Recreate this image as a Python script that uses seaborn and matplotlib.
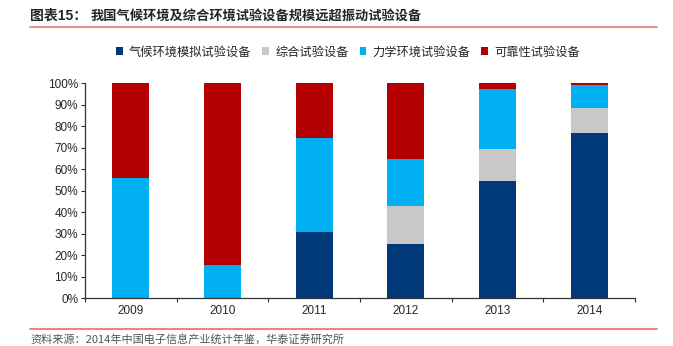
import matplotlib
matplotlib.use("Agg")
import matplotlib.pyplot as plt
from matplotlib.lines import Line2D
from matplotlib.patches import Patch
from matplotlib.ticker import PercentFormatter, FixedLocator
import seaborn as sns
import pandas as pd
import numpy as np

years = ["2009", "2010", "2011", "2012", "2013", "2014"]
series_names = ["气候环境模拟试验设备", "综合试验设备", "力学环境试验设备", "可靠性试验设备"]
climate = [0.0, 0.0, 31.0, 25.4, 54.6, 77.0]
combined = [0.0, 0.0, 0.0, 17.5, 15.0, 11.5]
mechanical = [56.0, 15.5, 43.6, 21.9, 27.9, 10.9]
reliability = [44.0, 84.5, 25.4, 35.2, 2.5, 0.6]
colors = ["#003878", "#C8C8C8", "#00B0F0", "#B40000"]

title_prefix = "图表15："
title_text = "我国气候环境及综合环境试验设备规模远超振动试验设备"
source_text = "资料来源：2014年中国电子信息产业统计年鉴，华泰证券研究所"

sns.set_theme(style="white")
plt.rcParams['font.family'] = ['Liberation Sans', 'Noto Sans CJK SC', 'DejaVu Sans']

values = np.array([climate, combined, mechanical, reliability])
cum = np.cumsum(values, axis=0)
df = pd.DataFrame({"year": years})
for i, n in enumerate(series_names):
    df[n] = cum[i]

fig = plt.figure(figsize=(6.73, 3.46), dpi=100)
ax = fig.add_axes([85/673, 1-298.3/346, 550/673, 215/346])

for i in range(len(series_names) - 1, -1, -1):
    sns.barplot(data=df, x="year", y=series_names[i], color=colors[i],
                width=0.4, ax=ax, saturation=1, linewidth=0)

ax.set_ylim(0, 100)
ax.set_xlim(-0.5, len(years) - 0.5)
ax.yaxis.set_major_locator(FixedLocator(np.arange(0, 101, 10)))
ax.yaxis.set_major_formatter(PercentFormatter(decimals=0))
ax.set_xlabel("")
ax.set_ylabel("")
for s in ["top", "right"]:
    ax.spines[s].set_visible(False)
for s in ["left", "bottom"]:
    ax.spines[s].set_color("#333333")
    ax.spines[s].set_linewidth(0.9)
ax.tick_params(axis="y", which="major", direction="out", length=3, width=0.8,
               color="#333333", labelsize=8.5, pad=2, left=True)
ax.xaxis.set_minor_locator(FixedLocator(np.arange(-0.5, len(years), 1)))
ax.tick_params(axis="x", which="major", length=0, labelsize=8.5, pad=5)
ax.tick_params(axis="x", which="minor", direction="out", length=3, width=0.8,
               color="#333333", bottom=True)

handles = [Patch(facecolor=c, edgecolor="none") for c in colors]
fig.legend(handles, series_names, loc="center", bbox_to_anchor=(0.517, 1-52/346),
           ncol=4, frameon=False, handlelength=0.55, handleheight=0.55,
           handletextpad=0.5, columnspacing=0.9,
           prop={"family": ["Noto Sans CJK SC"], "size": 8.8})

fig.text(30/673, 1-16/346, title_prefix, fontsize=10, fontweight="bold",
         va="center", ha="left", family=["Liberation Sans", "Noto Sans CJK SC"])
fig.text(91/673, 1-16/346, title_text, fontsize=9.5, fontweight="bold",
         va="center", ha="left", family=["Noto Sans CJK SC"])
fig.add_artist(Line2D([30/673, 657/673], [1-27/346, 1-27/346], transform=fig.transFigure,
                      color="#E8958F", linewidth=1.5))
fig.add_artist(Line2D([30/673, 657/673], [1-329.3/346, 1-329.3/346], transform=fig.transFigure,
                      color="#F06A64", linewidth=1.2))
fig.text(30/673, 1/346, source_text, fontsize=8, color="#555555",
         va="bottom", ha="left", family=["Noto Sans CJK SC", "Liberation Sans"])

fig.savefig("out.png", dpi=100)
